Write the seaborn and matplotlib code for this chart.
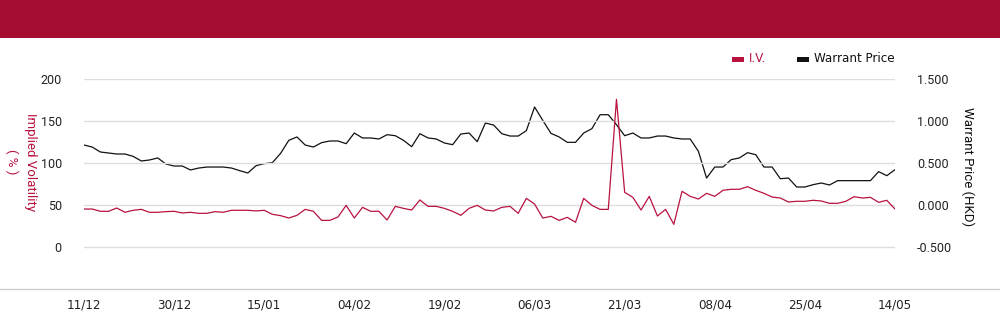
import matplotlib
matplotlib.use("Agg")
import matplotlib.pyplot as plt
from matplotlib.lines import Line2D
from matplotlib.patches import Rectangle
from matplotlib import font_manager
import seaborn as sns
import numpy as np
import pandas as pd

# ---------------- data ----------------
tick_labels = ["11/12", "30/12", "15/01", "04/02", "19/02",
               "06/03", "21/03", "08/04", "25/04", "14/05"]
tick_step = 11

iv = [45.2, 45.2, 42.5, 42.5, 46.4, 41.3, 43.7, 44.8, 41.3, 41.3,
      42.1, 42.5, 40.5, 41.3, 40.1, 40.1, 42.1, 41.3, 43.7, 43.7,
      43.7, 42.9, 43.7, 38.9, 37.3, 34.5, 37.7, 44.8, 42.5, 31.7,
      31.7, 35.7, 49.6, 34.5, 47.2, 42.5, 42.5, 32.1, 48.4, 46.0,
      44.0, 56.0, 48.4, 48.4, 46.0, 42.5, 37.7, 46.0, 49.6, 44.0,
      42.9, 47.2, 48.4, 40.1, 57.9, 51.2, 34.5, 36.5, 31.7, 35.3,
      29.4, 57.9, 49.6, 44.8, 44.8, 175.8, 65.1, 59.1, 44.0, 60.3,
      36.9, 44.8, 27.0, 66.3, 60.3, 57.1, 63.9, 60.3, 67.5, 68.7,
      68.7, 71.8, 67.5, 63.9, 59.5, 58.3, 53.6, 54.4, 54.4, 55.6,
      54.8, 52.0, 52.0, 54.4, 59.9, 58.3, 59.1, 53.2, 55.6, 45.2]

price = [0.714, 0.690, 0.631, 0.619, 0.607, 0.607, 0.579, 0.524, 0.536, 0.560,
         0.488, 0.464, 0.464, 0.417, 0.440, 0.452, 0.452, 0.452, 0.440, 0.409,
         0.381, 0.468, 0.492, 0.504, 0.615, 0.770, 0.810, 0.714, 0.690, 0.742,
         0.762, 0.762, 0.730, 0.857, 0.798, 0.798, 0.786, 0.837, 0.825, 0.770,
         0.694, 0.849, 0.798, 0.786, 0.738, 0.718, 0.845, 0.857, 0.754, 0.976,
         0.952, 0.849, 0.821, 0.821, 0.885, 1.167, 1.008, 0.853, 0.810, 0.746,
         0.746, 0.857, 0.909, 1.075, 1.075, 0.956, 0.825, 0.857, 0.798, 0.798,
         0.821, 0.821, 0.798, 0.786, 0.786, 0.639, 0.321, 0.452, 0.452, 0.540,
         0.560, 0.623, 0.599, 0.452, 0.452, 0.313, 0.321, 0.214, 0.214, 0.242,
         0.262, 0.238, 0.290, 0.290, 0.290, 0.290, 0.290, 0.397, 0.349, 0.421]

left_ticks = [0, 50, 100, 150, 200]
right_ticks = [-0.5, 0.0, 0.5, 1.0, 1.5]

series_names = ["I.V.", "Warrant Price"]
left_label = "Implied Volatility\n( % )"
right_label = "Warrant Price (HKD)"

# ---------------- style ----------------
RED = "#B8123F"
BANNER = "#A50D33"
BLACK = "#111111"
GRID = "#DDDDDD"
TICKFONT = ["Roboto", "DejaVu Sans"]

sns.set_style("white")
plt.rcParams["font.family"] = TICKFONT

# condensed font for x ticks and legend
_names = {f.name for f in font_manager.fontManager.ttflist}
if "Liberation Sans Narrow" in _names:
    NARROW = dict(family=["Liberation Sans Narrow"], stretch="normal")
else:
    NARROW = dict(family=["DejaVu Sans"], stretch="condensed")

W, H = 1000, 324
fig = plt.figure(figsize=(W / 100, H / 100), dpi=100)

def fx(px):
    return px / W

def fy(py):
    return 1 - py / H

# banner
fig.patches.append(Rectangle((0, fy(38)), 1, 38 / H, transform=fig.transFigure,
                             facecolor=BANNER, edgecolor="none", zorder=0))
# bottom full-width line
fig.lines.append(Line2D([0, 1], [fy(289), fy(289)], transform=fig.transFigure,
                        color="#CCCCCC", linewidth=1.0))

ax = fig.add_axes([fx(84), fy(289), fx(895) - fx(84), fy(79) - fy(289)])
ax2 = ax.twinx()

df = pd.DataFrame({"idx": np.arange(len(iv)), "iv": iv, "price": price})

ax.set_ylim(-50, 200)
ax2.set_ylim(-1.0, 1.5)
ax.set_xlim(0, len(iv) - 1)

for y in left_ticks:
    ax.axhline(y, color=GRID, linewidth=1.0, zorder=0)

sns.lineplot(data=df, x="idx", y="price", ax=ax2, color=BLACK, linewidth=0.9)
sns.lineplot(data=df, x="idx", y="iv", ax=ax, color=RED, linewidth=0.9)

ax.set_zorder(ax2.get_zorder() + 1)
ax.patch.set_visible(False)

ax.set_yticks(left_ticks)
ax.set_yticklabels([f"{t:d}" for t in left_ticks])
ax2.set_yticks(right_ticks)
ax2.set_yticklabels([f"{t:.3f}" for t in right_ticks])
ax.set_xticks([i * tick_step for i in range(len(tick_labels))])
ax.set_xticklabels(tick_labels)

ax.tick_params(axis="y", length=0, pad=16, labelsize=9, labelcolor="#222222")
ax2.tick_params(axis="y", length=0, pad=16, labelsize=9, labelcolor="#222222")
ax.tick_params(axis="x", length=0, pad=7, labelsize=9.5, labelcolor="#222222")
for lab in ax.get_xticklabels():
    lab.set_family(NARROW["family"])
    lab.set_stretch(NARROW["stretch"])

ax.set_xlabel("")
ax.set_ylabel("")
ax2.set_ylabel("")
for a in (ax, ax2):
    for s in a.spines.values():
        s.set_visible(False)
    a.grid(False)

# axis titles
fig.text(fx(21), fy(162), left_label, rotation=270, color=RED, fontsize=9.5,
         ha="center", va="center", multialignment="center", linespacing=1.45,
         family=TICKFONT)
fig.text(fx(968), fy(167), right_label, rotation=270, color="#111111", fontsize=9.5,
         ha="center", va="center", family=TICKFONT)

# legend
fig.patches.append(Rectangle((fx(732), fy(62)), 12 / W, 5 / H, transform=fig.transFigure,
                             facecolor=RED, edgecolor="none"))
fig.text(fx(749), fy(59), series_names[0], color=RED, fontsize=9.5,
         ha="left", va="center", **NARROW)
fig.patches.append(Rectangle((fx(797), fy(62)), 12 / W, 5 / H, transform=fig.transFigure,
                             facecolor=BLACK, edgecolor="none"))
fig.text(fx(814), fy(59), series_names[1], color="#111111", fontsize=9.5,
         ha="left", va="center", **NARROW)

fig.savefig("out.png", dpi=100, facecolor="white")
